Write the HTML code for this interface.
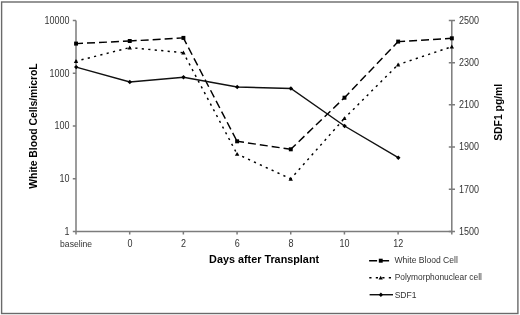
<!DOCTYPE html><html><head><meta charset="utf-8"><style>html,body{margin:0;padding:0;background:#fff;}svg{display:block}</style></head><body><svg width="520" height="315" viewBox="0 0 520 315"><rect x="1.6" y="2.0" width="516.3" height="311.5" fill="none" stroke="#6a6a6a" stroke-width="1.4"/><path d="M76.0 20.5V231.4M75.3 231.4H452.5M451.8 20.5V231.4" stroke="#7c7c7c" stroke-width="1.5" fill="none"/><path d="M72.8 20.50H76.0M72.8 73.22H76.0M72.8 125.95H76.0M72.8 178.68H76.0M72.8 231.40H76.0M448.8 20.50H455.0M448.8 62.68H455.0M448.8 104.86H455.0M448.8 147.04H455.0M448.8 189.22H455.0M448.8 231.40H455.0M76.00 231.4V234.4M129.69 231.4V234.4M183.37 231.4V234.4M237.06 231.4V234.4M290.74 231.4V234.4M344.43 231.4V234.4M398.11 231.4V234.4M451.80 231.4V234.4" stroke="#7c7c7c" stroke-width="1.5" fill="none"/><g font-family="'Liberation Sans', Arial, sans-serif" font-size="10" fill="#333"><text x="44.4" y="24.0" textLength="25" lengthAdjust="spacingAndGlyphs">10000</text><text x="49.4" y="76.7" textLength="20" lengthAdjust="spacingAndGlyphs">1000</text><text x="54.4" y="129.4" textLength="15" lengthAdjust="spacingAndGlyphs">100</text><text x="59.4" y="182.2" textLength="10" lengthAdjust="spacingAndGlyphs">10</text><text x="64.4" y="234.9" textLength="5" lengthAdjust="spacingAndGlyphs">1</text><text x="458.9" y="23.9" textLength="20" lengthAdjust="spacingAndGlyphs">2500</text><text x="458.9" y="66.1" textLength="20" lengthAdjust="spacingAndGlyphs">2300</text><text x="458.9" y="108.3" textLength="20" lengthAdjust="spacingAndGlyphs">2100</text><text x="458.9" y="150.4" textLength="20" lengthAdjust="spacingAndGlyphs">1900</text><text x="458.9" y="192.6" textLength="20" lengthAdjust="spacingAndGlyphs">1700</text><text x="458.9" y="234.8" textLength="20" lengthAdjust="spacingAndGlyphs">1500</text><text x="127.4" y="246.6" textLength="5" lengthAdjust="spacingAndGlyphs">0</text><text x="181.1" y="246.6" textLength="5" lengthAdjust="spacingAndGlyphs">2</text><text x="234.8" y="246.6" textLength="5" lengthAdjust="spacingAndGlyphs">6</text><text x="288.4" y="246.6" textLength="5" lengthAdjust="spacingAndGlyphs">8</text><text x="339.6" y="246.6" textLength="10" lengthAdjust="spacingAndGlyphs">10</text><text x="393.3" y="246.6" textLength="10" lengthAdjust="spacingAndGlyphs">12</text></g><text x="60.1" y="246.5" font-family="'Liberation Sans', Arial, sans-serif" font-size="9" fill="#333" textLength="32" lengthAdjust="spacingAndGlyphs">baseline</text><g font-family="'Liberation Sans', Arial, sans-serif" font-size="10.7" font-weight="bold" fill="#000"><text x="209.1" y="263" textLength="110" lengthAdjust="spacingAndGlyphs">Days after Transplant</text><text transform="translate(36.9 188.7) rotate(-90)" textLength="125.3" lengthAdjust="spacingAndGlyphs">White Blood Cells/microL</text><text transform="translate(502.4 140.8) rotate(-90)" textLength="57" lengthAdjust="spacingAndGlyphs">SDF1 pg/ml</text></g><g stroke="#000" stroke-width="1.45" stroke-dasharray="8 4" stroke-dashoffset="1"><line x1="76.00" y1="43.6" x2="129.69" y2="41"/><line x1="129.69" y1="41" x2="183.37" y2="37.9"/><line x1="183.37" y1="37.9" x2="237.06" y2="141.3"/><line x1="237.06" y1="141.3" x2="290.74" y2="149.3"/><line x1="290.74" y1="149.3" x2="344.43" y2="97.7"/><line x1="344.43" y1="97.7" x2="398.11" y2="41.6"/><line x1="398.11" y1="41.6" x2="451.80" y2="38.3"/></g><g stroke="#000" stroke-width="1.45" stroke-dasharray="2.2 4.3" stroke-dashoffset="0.9"><line x1="76.00" y1="61.2" x2="129.69" y2="47.6"/><line x1="129.69" y1="47.6" x2="183.37" y2="52.7"/><line x1="183.37" y1="52.7" x2="237.06" y2="154"/><line x1="237.06" y1="154" x2="290.74" y2="178.9"/><line x1="290.74" y1="178.9" x2="344.43" y2="118.3"/><line x1="344.43" y1="118.3" x2="398.11" y2="64.6"/><line x1="398.11" y1="64.6" x2="451.80" y2="46.7"/></g><polyline points="76.15,67.1 129.84,82 183.52,77.3 237.21,87 290.89,88.5 344.58,126 398.26,157.7" fill="none" stroke="#111" stroke-width="1.45"/><g fill="#000"><rect x="74.10" y="41.6" width="3.9" height="4"/><rect x="127.79" y="39.0" width="3.9" height="4"/><rect x="181.47" y="35.9" width="3.9" height="4"/><rect x="235.16" y="139.3" width="3.9" height="4"/><rect x="288.84" y="147.3" width="3.9" height="4"/><rect x="342.53" y="95.7" width="3.9" height="4"/><rect x="396.21" y="39.6" width="3.9" height="4"/><rect x="449.90" y="36.3" width="3.9" height="4"/><path d="M76.0 59.1L78.2 63.0L73.8 63.0Z"/><path d="M129.7 45.5L131.9 49.4L127.5 49.4Z"/><path d="M183.4 50.6L185.6 54.5L181.2 54.5Z"/><path d="M237.1 151.9L239.3 155.8L234.9 155.8Z"/><path d="M290.7 176.8L292.9 180.7L288.5 180.7Z"/><path d="M344.4 116.2L346.6 120.1L342.2 120.1Z"/><path d="M398.1 62.5L400.3 66.4L395.9 66.4Z"/><path d="M451.8 44.6L454.0 48.5L449.6 48.5Z"/><path d="M76.2 64.9L78.4 67.1L76.2 69.3L74.0 67.1Z"/><path d="M129.8 79.8L132.0 82.0L129.8 84.2L127.6 82.0Z"/><path d="M183.5 75.1L185.7 77.3L183.5 79.5L181.3 77.3Z"/><path d="M237.2 84.8L239.4 87.0L237.2 89.2L235.0 87.0Z"/><path d="M290.9 86.3L293.1 88.5L290.9 90.7L288.7 88.5Z"/><path d="M344.6 123.8L346.8 126.0L344.6 128.2L342.4 126.0Z"/><path d="M398.3 155.5L400.5 157.7L398.3 159.9L396.1 157.7Z"/></g><g fill="#000"><path d="M369.1 260.7H393" stroke="#000" stroke-width="1.45" stroke-dasharray="8 4" fill="none"/><rect x="378.8" y="258.7" width="3.9" height="4"/><path d="M369.3 277.8H393" stroke="#000" stroke-width="1.45" stroke-dasharray="2.2 4.3" fill="none"/><path d="M380.7 275.7L382.8 279.6L378.59999999999997 279.6Z"/><path d="M369.6 294.7H393" stroke="#111" stroke-width="1.45" fill="none"/><path d="M380.9 292.5L383.09999999999997 294.7L380.9 296.9L378.7 294.7Z"/></g><g font-family="'Liberation Sans', Arial, sans-serif" font-size="9" fill="#333"><text x="394.5" y="262.9" textLength="63.3" lengthAdjust="spacingAndGlyphs">White Blood Cell</text><text x="394.7" y="280.4" textLength="87.2" lengthAdjust="spacingAndGlyphs">Polymorphonuclear cell</text><text x="394.7" y="297.7" textLength="21.8" lengthAdjust="spacingAndGlyphs">SDF1</text></g></svg></body></html>
